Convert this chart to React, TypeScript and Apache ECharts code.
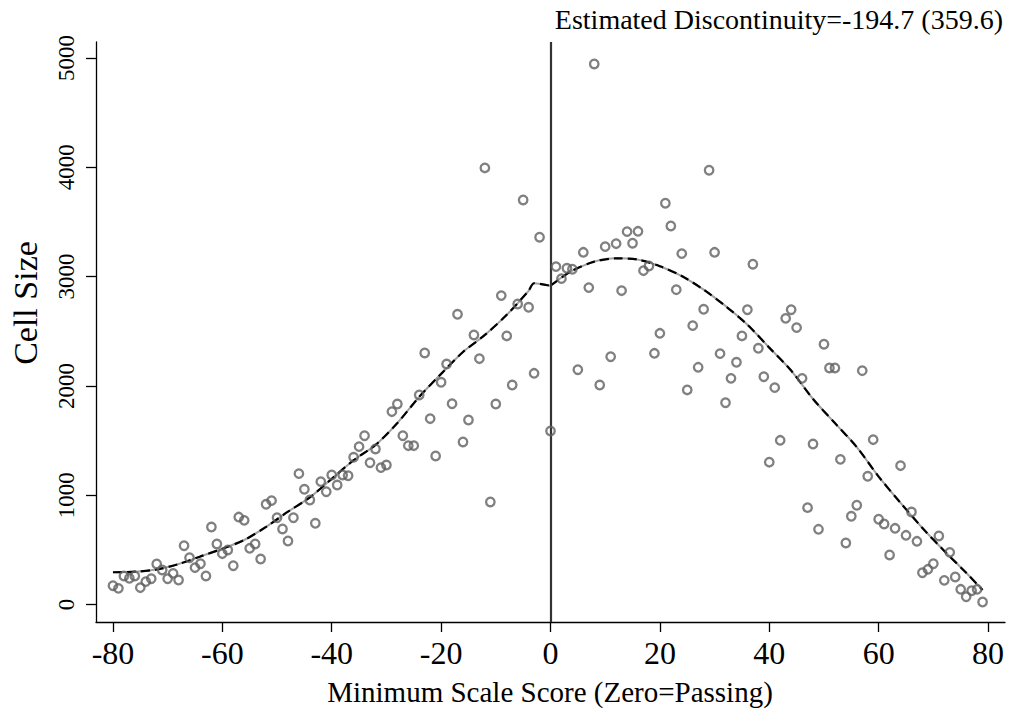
import React, { useEffect, useRef } from "react";
import * as echarts from "echarts";

// Scatter data: minimum scale score (x) and cell size (y)
const leftScores = [
  -80, -79, -78, -77, -76, -75, -74, -73, -72, -71,
  -70, -69, -68, -67, -66, -65, -64, -63, -62, -61,
  -60, -59, -58, -57, -56, -55, -54, -53, -52, -51,
  -50, -49, -48, -47, -46, -45, -44, -43, -42, -41,
  -40, -39, -38, -37, -36, -35, -34, -33, -32, -31,
  -30, -29, -28, -27, -26, -25, -24, -23, -22, -21,
  -20, -19, -18, -17, -16, -15, -14, -13, -12, -11,
  -10, -9, -8, -7, -6, -5, -4, -3, -2,
];
const leftCells = [
  172, 148, 261, 240, 261, 154, 209, 236, 371, 316,
  236, 285, 224, 538, 428, 337, 373, 261, 709, 554,
  465, 499, 355, 800, 770, 514, 554, 416, 917, 950,
  794, 691, 581, 794, 1197, 1054, 956, 743, 1124, 1032,
  1185, 1093, 1185, 1178, 1347, 1444, 1544, 1297, 1423, 1252,
  1276, 1764, 1834, 1544, 1453, 1453, 1917, 2301, 1700, 1359,
  2033, 2200, 1837, 2655, 1487, 1688, 2466, 2249, 3994, 938,
  1834, 2826, 2457, 2008, 2749, 3701, 2719, 2115, 3360,
];
const rightScores = [
  0, 1, 2, 3, 4, 5, 6, 7, 8, 9,
  10, 11, 12, 13, 14, 15, 16, 17, 18, 19,
  20, 21, 22, 23, 24, 25, 26, 27, 28, 29,
  30, 31, 32, 33, 34, 35, 36, 37, 38, 39,
  40, 41, 42, 43, 44, 45, 46, 47, 48, 49,
  50, 51, 52, 53, 54, 55, 56, 57, 58, 59,
  60, 61, 62, 63, 64, 65, 66, 67, 68, 69,
  70, 71, 72, 73, 74, 75, 76, 77, 78, 79,
];
const rightCells = [
  1587, 3091, 2981, 3076, 3067, 2148, 3222, 2899, 4945, 2008,
  3274, 2267, 3301, 2871, 3411, 3305, 3414, 3054, 3097, 2298,
  2481, 3671, 3463, 2880, 3210, 1963, 2551, 2170, 2701, 3973,
  3222, 2295, 1846, 2069, 2216, 2457, 2697, 3113, 2344, 2084,
  1302, 1984, 1502, 2618, 2697, 2533, 2069, 886, 1468, 688,
  2381, 2164, 2164, 1328, 563, 807, 908, 2139, 1173, 1508,
  780, 737, 453, 697, 1270, 633, 846, 578, 291, 322,
  373, 627, 221, 477, 252, 139, 71, 126, 139, 23,
];

// Fitted curves
const fitLeftX = [-80, -76, -72, -68, -64, -60, -56, -52, -48, -44, -40, -36, -32, -28, -24, -20, -16, -12, -8, -4, -3, 0];
const fitLeftY = [295, 300, 320, 370, 440, 510, 590, 710, 849, 980, 1150, 1320, 1460, 1660, 1900, 2110, 2310, 2466, 2650, 2870, 2939, 2915];
const fitRightX = [0, 2, 4, 8, 12, 16, 20, 24, 28, 32, 36, 40, 44, 48, 52, 56, 60, 64, 68, 72, 76, 79];
const fitRightY = [2917, 2990, 3055, 3137, 3167, 3155, 3095, 3005, 2880, 2730, 2560, 2350, 2140, 1880, 1660, 1440, 1170, 930, 700, 490, 290, 133];

const xTicks = [-80, -60, -40, -20, 0, 20, 40, 60, 80];
const yTicks = [0, 1000, 2000, 3000, 4000, 5000];

const titleText = "Estimated Discontinuity=-194.7 (359.6)";
const xTitle = "Minimum Scale Score (Zero=Passing)";
const yTitle = "Cell Size";

const FONT = "'Liberation Serif', 'DejaVu Serif', serif";

function zip(xs: number[], ys: number[]) {
  return xs.map((x, i) => [x, ys[i]]);
}

export default function App() {
  const ref = useRef<HTMLDivElement>(null);

  useEffect(() => {
    document.body.style.margin = "0";
    if (!ref.current) return;
    const chart = echarts.init(ref.current, null, { renderer: "svg" });

    const fitSeries = (name: string, data: number[][]) => [
      {
        name: name + "-base",
        type: "line",
        data,
        symbol: "none",
        silent: true,
        smooth: 0.3,
        lineStyle: { color: "#a0a0a0", width: 2, type: "solid" },
        z: 3,
      },
      {
        name,
        type: "line",
        data,
        symbol: "none",
        silent: true,
        smooth: 0.3,
        lineStyle: { color: "#000", width: 2.2, type: [9, 5] },
        z: 4,
      },
    ];

    const option: any = {
      animation: false,
      backgroundColor: "#fff",
      grid: { left: 96, right: 6, top: 42, bottom: 90 },
      xAxis: {
        type: "value",
        min: -83.1,
        max: 83.1,
        splitLine: { show: false },
        axisLine: { show: true, onZero: false, lineStyle: { color: "#000", width: 1.3 } },
        axisTick: { show: true, length: 10, inside: false, customValues: xTicks, lineStyle: { color: "#000", width: 1.3 } },
        axisLabel: { customValues: xTicks, fontSize: 32, color: "#000", fontFamily: FONT, margin: 15, formatter: (v: number) => String(v) },
      },
      yAxis: {
        type: "value",
        min: -160,
        max: 5146,
        splitLine: { show: false },
        axisLine: { show: true, onZero: false, lineStyle: { color: "#000", width: 1.3 } },
        axisTick: { show: true, length: 10, inside: false, customValues: yTicks, lineStyle: { color: "#000", width: 1.3 } },
        axisLabel: { customValues: yTicks, rotate: 90, fontSize: 23, color: "#000", fontFamily: FONT, margin: 18, formatter: (v: number) => String(v) },
      },
      graphic: [
        {
          type: "text",
          right: 8,
          top: 5,
          style: { text: titleText, fontSize: 28, fontFamily: FONT, fill: "#000" },
        },
        {
          type: "text",
          x: 550,
          y: 692,
          style: { text: xTitle, fontSize: 29, fontFamily: FONT, fill: "#000", align: "center", verticalAlign: "middle" },
        },
        {
          type: "text",
          x: 25,
          y: 303,
          rotation: Math.PI / 2,
          style: { text: yTitle, fontSize: 34, fontFamily: FONT, fill: "#000", align: "center", verticalAlign: "middle" },
        },
      ],
      series: [
        {
          name: "cells",
          type: "scatter",
          data: [...zip(leftScores, leftCells), ...zip(rightScores, rightCells)],
          symbol: "circle",
          symbolSize: 8.5,
          itemStyle: { color: "rgba(0,0,0,0)", borderColor: "#606060", borderWidth: 2.3 },
          z: 5,
          markLine: {
            silent: true,
            symbol: ["none", "none"],
            label: { show: false },
            lineStyle: { color: "#333", width: 2.2, type: "solid" },
            data: [{ xAxis: 0 }],
          },
        },
        ...fitSeries("fitLeft", zip(fitLeftX, fitLeftY)),
        ...fitSeries("fitRight", zip(fitRightX, fitRightY)),
      ],
    };

    chart.setOption(option);
    return () => chart.dispose();
  }, []);

  return <div ref={ref} style={{ width: 1011, height: 712 }} />;
}
